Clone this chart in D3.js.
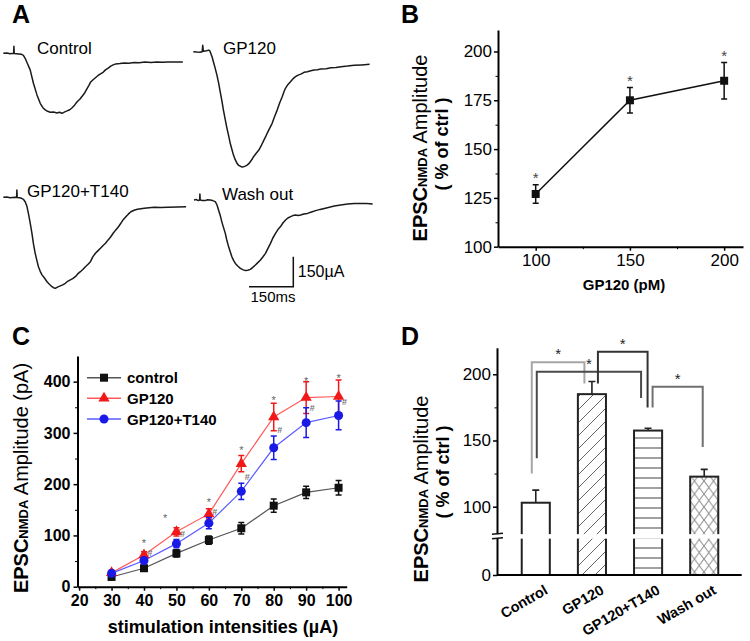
<!DOCTYPE html>
<html><head><meta charset="utf-8">
<script src="https://cdn.jsdelivr.net/npm/d3@7"></script>
<style>body{margin:0;background:#fff}svg{display:block}</style>
</head><body><svg id="c" width="750" height="641"></svg>
<script>
// ================= DATA =================
// Panel A: representative traces, [time (ms), current (µA)]
const traceControl = [[0,0],[12,1],[23,-2],[34,0],[35,-1],[36,35],[37,-1],[52,-3],[62,-5],[68,-10],[74,-25],[82,-52],[91,-83],[102,-150],[114,-208],[125,-250],[134,-272],[142,-283],[150,-290],[159,-295],[170,-294],[182,-298],[190,-295],[199,-300],[208,-293],[216,-288],[225,-282],[233,-272],[242,-258],[250,-242],[259,-230],[267,-215],[276,-197],[284,-175],[290,-160],[295,-145],[304,-132],[312,-122],[320,-112],[329,-103],[338,-95],[346,-83],[355,-74],[364,-64],[372,-58],[381,-53],[395,-51],[409,-48],[425,-50],[443,-46],[460,-47],[480,-44],[500,-46],[520,-44],[540,-45],[557,-43],[580,-44],[608,-43]];
const traceGP120 = [[0,0],[12,-2],[23,-3],[30,0],[32,32],[34,2],[45,5],[52,8],[56,4],[59,-8],[64,-28],[68,-50],[74,-82],[80,-117],[86,-158],[91,-200],[97,-247],[102,-292],[108,-338],[114,-383],[120,-422],[125,-458],[131,-490],[136,-517],[142,-540],[148,-558],[153,-568],[159,-572],[165,-577],[170,-575],[176,-572],[182,-567],[188,-560],[193,-550],[199,-538],[204,-525],[213,-508],[222,-492],[230,-470],[239,-442],[245,-425],[250,-408],[258,-385],[267,-358],[275,-325],[284,-292],[292,-258],[301,-225],[307,-200],[312,-183],[320,-165],[329,-150],[337,-136],[346,-125],[355,-117],[364,-112],[375,-103],[386,-100],[398,-95],[409,-92],[420,-90],[432,-87],[450,-85],[466,-80],[483,-79],[500,-75],[522,-72],[545,-68],[570,-66],[597,-63]];
const traceGPT140 = [[0,0],[12,1],[23,-2],[40,0],[45,-1],[46,36],[47,-1],[55,-2],[62,-5],[68,-10],[74,-22],[80,-45],[85,-80],[91,-128],[97,-180],[102,-232],[108,-280],[114,-318],[119,-347],[125,-370],[131,-388],[140,-405],[148,-422],[156,-435],[165,-447],[170,-452],[176,-455],[185,-448],[193,-443],[201,-438],[210,-430],[218,-420],[227,-413],[235,-407],[244,-397],[252,-383],[261,-372],[270,-360],[278,-347],[287,-335],[295,-322],[303,-298],[312,-280],[320,-268],[329,-255],[337,-242],[346,-230],[355,-213],[364,-197],[372,-180],[381,-163],[390,-147],[398,-130],[406,-112],[415,-97],[424,-83],[432,-72],[443,-65],[454,-60],[466,-57],[477,-55],[494,-52],[511,-50],[534,-51],[557,-50],[590,-48],[619,-47]];
const traceWash = [[0,0],[8,2],[15,-3],[19,0],[20,30],[21,0],[28,-2],[37,-3],[46,1],[55,0],[63,-3],[72,-8],[78,-25],[83,-50],[89,-78],[94,-108],[100,-138],[106,-167],[111,-200],[117,-233],[123,-260],[128,-283],[134,-302],[140,-317],[148,-330],[157,-342],[165,-348],[174,-353],[182,-351],[191,-347],[199,-337],[208,-325],[216,-313],[225,-300],[233,-285],[242,-267],[250,-243],[259,-217],[267,-190],[276,-167],[284,-148],[293,-133],[301,-115],[310,-100],[318,-90],[327,-83],[335,-78],[344,-75],[352,-77],[361,-75],[372,-70],[384,-67],[398,-60],[412,-53],[427,-47],[441,-42],[458,-36],[475,-30],[497,-25],[520,-20],[543,-18],[566,-17],[585,-18],[605,-20]];
const traceNames = ["Control","GP120","GP120+T140","Wash out"];
const scaleBarCurrent = 150; // µA
const scaleBarTime = 150;    // ms

// Panel B
const bDose = [100,150,200];
const bMean = [127,175,185];
const bErr  = [4.7,6.5,9.3];
const bYTicks = [100,125,150,175,200];
const bYMinor = [112.5,137.5,162.5,187.5];
const bXTicks = [100,150,200];
const bXMinor = [125,175];

// Panel C
const cIntensity = [30,40,50,60,70,80,90,100];
const cControl    = [19,36,65,91,114,158,184,193];
const cControlErr = [5,5,7,8,11,13,12,14];
const cGP120      = [27,62,107,142,240,331,369,371];
const cGP120Err   = [5,6,8,10,16,27,31,32];
const cGPT140     = [26,51,84,124,186,271,320,334];
const cGPT140Err  = [4,6,8,11,16,23,29,28];
const cStarX = [null,40,46.5,60,70,80,90,100];
const cStarY = [null,89,138,169,270,369,406,411];
const cHashY = [null,66,103,146,214,307,349,361];
const cYTicks = [0,100,200,300,400];
const cYMinor = [50,150,250,350];
const cXTicks = [20,30,40,50,60,70,80,90,100];
const cXMinor = [25,35,45,55,65,75,85,95];
const cSeriesNames = ["control","GP120","GP120+T140"];

// Panel D
const dGroups = ["Control","GP120","GP120+T140","Wash out"];
const dMean = [103,185,157.5,122.7];
const dErr  = [9.5,9.5,1.8,5.5];
const dYTicks = [0,100,150,200];
const dYMinor = [125,175];
const dBreak = 77;
// significance brackets: group indices and leg/top values
const dBrackets = [
  {from:0,to:1,legFrom:125,legTo:193,top:209},
  {from:0,to:2,legFrom:136.6,legTo:182,top:202},
  {from:1,to:2,legFrom:193,legTo:175,top:217},
  {from:2,to:3,legFrom:175,legTo:145,top:190.6}
];

// ================= DRAWING =================
const F = "'Liberation Sans', Arial, Helvetica, sans-serif";
const svg = d3.select("#c").style("font-family", F);

function panelLabel(t,x,y){
  svg.append("text").attr("x",x).attr("y",y).attr("font-size",25).attr("font-weight","bold").text(t);
}
panelLabel("A",12,23); panelLabel("B",401,23); panelLabel("C",12,345); panelLabel("D",401,345);

// ---- Panel A
const xA = d3.scaleLinear().domain([0,150]).range([0,44.3]);
const yA = d3.scaleLinear().domain([0,-150]).range([0,30]);
const lineA = d3.line().x(d=>xA(d[0])).y(d=>yA(d[1]));
const traces = [traceControl,traceGP120,traceGPT140,traceWash];
const aOrig = [[3.3,53.3],[193.3,51.7],[3.3,197.3],[194,200]];
const aLab = [[37,54],[223,54],[27,197],[222,200]];
traces.forEach((tr,i)=>{
  svg.append("path").attr("transform",`translate(${aOrig[i][0]},${aOrig[i][1]})`)
    .attr("d",lineA(tr)).attr("fill","none").attr("stroke","#1a1a1a").attr("stroke-width",1.5)
    .attr("stroke-linejoin","round");
  svg.append("text").attr("x",aLab[i][0]).attr("y",aLab[i][1]).attr("font-size",17).text(traceNames[i]);
});
// scale bar
{
  const cx = 293.3, cy = 286.7;
  svg.append("path").attr("d",`M${cx},${cy - (yA(-scaleBarCurrent)-yA(0))}V${cy}H${cx - xA(scaleBarTime)}`)
    .attr("fill","none").attr("stroke","#111").attr("stroke-width",1.5);
  svg.append("text").attr("x",cx+4.5).attr("y",277).attr("font-size",16).text("150µA");
  svg.append("text").attr("x",cx - xA(scaleBarTime)+1.5).attr("y",301.5).attr("font-size",15).text("150ms");
}

// helpers
function styleAxis(g, fs, weight){
  g.select(".domain").attr("stroke","#000").attr("stroke-width",2);
  g.selectAll(".tick line").attr("stroke","#000").attr("stroke-width",1.5);
  g.selectAll(".tick text").attr("font-size",fs).attr("font-family",F).attr("font-weight",weight).attr("fill","#000");
}
function yLabel(x, yc, lines, bigFs, smallFs, ampWeight, secondFs){
  const t = svg.append("text").attr("transform",`translate(${x},${yc}) rotate(-90)`).attr("text-anchor","middle");
  t.append("tspan").attr("font-size",bigFs).attr("font-weight","bold").text("EPSC");
  t.append("tspan").attr("font-size",smallFs).attr("font-weight","bold").text("NMDA");
  t.append("tspan").attr("font-size",bigFs).attr("font-weight",ampWeight).text(lines[0]);
}

// ---- Panel B
const xB = d3.scaleLinear().domain([80,210]).range([498,743]);
const yB = d3.scaleLinear().domain([100,211]).range([246.7,30]);
{
  const gy = svg.append("g").attr("transform","translate(498,0)")
    .call(d3.axisLeft(yB).tickValues(bYTicks).tickSize(4).tickPadding(2).tickSizeOuter(0));
  styleAxis(gy,17,"normal");
  const gym = svg.append("g").attr("transform","translate(498,0)")
    .call(d3.axisLeft(yB).tickValues(bYMinor).tickSize(2.5).tickFormat("").tickSizeOuter(0));
  gym.select(".domain").remove(); gym.selectAll(".tick line").attr("stroke-width",1);
  const gx = svg.append("g").attr("transform","translate(0,246.7)")
    .call(d3.axisBottom(xB).tickValues(bXTicks).tickSize(4).tickPadding(3).tickSizeOuter(0));
  styleAxis(gx,17,"normal");
  const gxm = svg.append("g").attr("transform","translate(0,246.7)")
    .call(d3.axisBottom(xB).tickValues(bXMinor).tickSize(2.5).tickFormat("").tickSizeOuter(0));
  gxm.select(".domain").remove(); gxm.selectAll(".tick line").attr("stroke-width",1);

  svg.append("text").attr("x",624).attr("y",290).attr("text-anchor","middle")
    .attr("font-size",15).attr("font-weight","bold").text("GP120 (pM)");
  yLabel(427,148,[" Amplitude"],20,13,"normal");
  svg.append("text").attr("transform","translate(448,144) rotate(-90)").attr("text-anchor","middle")
    .attr("font-size",18).attr("font-weight","bold").text("( % of ctrl )");

  const line = d3.line().x((d,i)=>xB(bDose[i])).y(d=>yB(d));
  svg.append("path").attr("d",line(bMean)).attr("fill","none").attr("stroke","#111").attr("stroke-width",1.5);
  bDose.forEach((d,i)=>{
    const x=xB(d), y1=yB(bMean[i]+bErr[i]), y0=yB(bMean[i]-bErr[i]);
    svg.append("path").attr("d",`M${x},${y0}V${y1}M${x-3},${y0}H${x+3}M${x-3},${y1}H${x+3}`)
      .attr("stroke","#111").attr("stroke-width",1.5).attr("fill","none");
    svg.append("rect").attr("x",x-4).attr("y",yB(bMean[i])-4).attr("width",8).attr("height",8).attr("fill","#111");
    svg.append("text").attr("x",x).attr("y",y1-2).attr("text-anchor","middle").attr("font-size",15)
      .attr("fill","#444").text("*");
  });
}

// ---- Panel C
const xC = d3.scaleLinear().domain([19.5,102.5]).range([77.5,346.7]);
const yC = d3.scaleLinear().domain([0,450]).range([586.7,356]);
{
  const gy = svg.append("g").attr("transform","translate(77.5,0)")
    .call(d3.axisLeft(yC).tickValues(cYTicks).tickSize(4).tickPadding(3).tickSizeOuter(0));
  styleAxis(gy,16,"bold");
  const gym = svg.append("g").attr("transform","translate(77.5,0)")
    .call(d3.axisLeft(yC).tickValues(cYMinor).tickSize(2.5).tickFormat("").tickSizeOuter(0));
  gym.select(".domain").remove(); gym.selectAll(".tick line").attr("stroke-width",1);
  const gx = svg.append("g").attr("transform","translate(0,586.7)")
    .call(d3.axisBottom(xC).tickValues(cXTicks).tickSize(4).tickPadding(4).tickSizeOuter(0));
  styleAxis(gx,16,"bold");
  const gxm = svg.append("g").attr("transform","translate(0,586.7)")
    .call(d3.axisBottom(xC).tickValues(cXMinor).tickSize(2.5).tickFormat("").tickSizeOuter(0));
  gxm.select(".domain").remove(); gxm.selectAll(".tick line").attr("stroke-width",1);

  svg.append("text").attr("x",223).attr("y",633).attr("text-anchor","middle")
    .attr("font-size",18).attr("font-weight","bold").text("stimulation intensities (µA)");
  yLabel(28,478,[" Amplitude (pA)"],20,13,"normal");

  const series = [
    {v:cControl,e:cControlErr,line:"#555",c:"#111",shape:"square"},
    {v:cGP120,e:cGP120Err,line:"#ff5a5a",c:"#f01818",shape:"tri"},
    {v:cGPT140,e:cGPT140Err,line:"#5a5aff",c:"#1a1ae6",shape:"circle"}
  ];
  function marker(g,shape,x,y,c){
    if(shape==="square") g.append("rect").attr("x",x-4).attr("y",y-4).attr("width",8).attr("height",8).attr("fill",c);
    else if(shape==="tri") g.append("path").attr("d",d3.symbol(d3.symbolTriangle,55)()).attr("transform",`translate(${x},${y})`).attr("fill",c);
    else g.append("circle").attr("cx",x).attr("cy",y).attr("r",4.5).attr("fill",c);
  }
  series.forEach(s=>{
    const line = d3.line().x((d,i)=>xC(cIntensity[i])).y(d=>yC(d));
    svg.append("path").attr("d",line(s.v)).attr("fill","none").attr("stroke",s.line).attr("stroke-width",1.2);
  });
  series.forEach(s=>{
    const g = svg.append("g");
    s.v.forEach((v,i)=>{
      const x=xC(cIntensity[i]), y1=yC(v+s.e[i]), y0=yC(v-s.e[i]);
      g.append("path").attr("d",`M${x},${y0}V${y1}M${x-3},${y0}H${x+3}M${x-3},${y1}H${x+3}`)
        .attr("stroke",s.c).attr("stroke-width",1.5).attr("fill","none");
      marker(g,s.shape,x,yC(v),s.c);
    });
  });
  cIntensity.forEach((d,i)=>{
    if(cStarY[i]!=null) svg.append("text").attr("x",xC(cStarX[i])).attr("y",yC(cStarY[i])+6)
      .attr("text-anchor","middle").attr("font-size",11).attr("fill","#666").text("*");
    if(cHashY[i]!=null) svg.append("text").attr("x",xC(d)+6).attr("y",yC(cHashY[i])+3.5)
      .attr("text-anchor","middle").attr("font-size",9).attr("font-weight","bold").attr("fill","#777").text("#");
  });
  // legend
  const ly = [377.7,398.3,419];
  series.forEach((s,i)=>{
    svg.append("line").attr("x1",87).attr("x2",121).attr("y1",ly[i]).attr("y2",ly[i]).attr("stroke",s.line).attr("stroke-width",1.5);
    const g = svg.append("g"); marker(g,s.shape,104,ly[i],s.c);
    svg.append("text").attr("x",127).attr("y",ly[i]+5.5).attr("font-size",15).attr("font-weight","bold").text(cSeriesNames[i]);
  });
}

// ---- Panel D
const xD = d3.scaleBand().domain(dGroups).range([507.7,732.3]).paddingInner(0.5).paddingOuter(0.25);
const yD = d3.scaleLinear().domain([0,75,220]).range([575,539.8,347.8]);
{
  const defs = svg.append("defs");
  const p1 = defs.append("pattern").attr("id","diag").attr("patternUnits","userSpaceOnUse").attr("width",13).attr("height",13);
  p1.append("path").attr("d","M-1,14L14,-1M-3,3L3,-3M10,16L16,10").attr("stroke","#666").attr("stroke-width",1);
  const p2 = defs.append("pattern").attr("id","horiz").attr("patternUnits","userSpaceOnUse").attr("width",10).attr("height",10).attr("y",3);
  p2.append("path").attr("d","M0,5H10").attr("stroke","#8a8a8a").attr("stroke-width",1.6);
  const p3 = defs.append("pattern").attr("id","cross").attr("patternUnits","userSpaceOnUse").attr("width",9.5).attr("height",13).attr("x",1);
  p3.append("path").attr("d","M0,0L9.5,13M9.5,0L0,13").attr("stroke","#888").attr("stroke-width",1);
  const fills = ["#fff","url(#diag)","url(#horiz)","url(#cross)"];

  dGroups.forEach((g,i)=>{
    const x = xD(g), w = xD.bandwidth(), cx = x + w/2;
    const y1 = yD(dMean[i]+dErr[i]);
    svg.append("path").attr("d",`M${cx},${yD(dMean[i])}V${y1}M${cx-3.5},${y1}H${cx+3.5}`)
      .attr("stroke","#222").attr("stroke-width",1.6).attr("fill","none");
    svg.append("rect").attr("x",x).attr("y",yD(dMean[i])).attr("width",w).attr("height",yD(0)-yD(dMean[i]))
      .attr("fill","#fff");
    svg.append("rect").attr("x",x).attr("y",yD(dMean[i])).attr("width",w).attr("height",yD(0)-yD(dMean[i]))
      .attr("fill",fills[i]).attr("stroke","#222").attr("stroke-width",2);
  });

  // axes
  const gy = svg.append("g").attr("transform","translate(497,0)")
    .call(d3.axisLeft(yD).tickValues(dYTicks).tickSize(4).tickPadding(2).tickSizeOuter(0));
  styleAxis(gy,17,"normal");
  const gym = svg.append("g").attr("transform","translate(497,0)")
    .call(d3.axisLeft(yD).tickValues(dYMinor).tickSize(2.5).tickFormat("").tickSizeOuter(0));
  gym.select(".domain").remove(); gym.selectAll(".tick line").attr("stroke-width",1);
  // axis break gap
  const yb = yD(dBreak);
  svg.append("rect").attr("x",490).attr("y",yb-3).attr("width",240).attr("height",4.5).attr("fill","#fff");
  svg.append("path").attr("d",`M492,${yb-3}L503,${yb-3.8}M492,${yb+1.5}L503,${yb+0.7}`)
    .attr("stroke","#111").attr("stroke-width",1.5);
  svg.append("line").attr("x1",497).attr("x2",741.7).attr("y1",yD(0)).attr("y2",yD(0)).attr("stroke","#000").attr("stroke-width",2);

  dGroups.forEach((g,i)=>{
    const cx = xD(g)+xD.bandwidth()/2;
    svg.append("text").attr("transform",`translate(${cx+13},${593}) rotate(-30)`).attr("text-anchor","end")
      .attr("font-size",14.5).attr("font-weight","bold").text(g);
  });

  yLabel(428,489,[" Amplitude"],20,13,"normal");
  svg.append("text").attr("transform","translate(449,472) rotate(-90)").attr("text-anchor","middle")
    .attr("font-size",18).attr("font-weight","bold").text("( % of ctrl )");

  // brackets
  const bStyle = [{ao:-4,bo:-7.5,c:"#a5a5a5"},{ao:1,bo:-7,c:"#4a4a4a"},{ao:6,bo:-0.5,c:"#333"},{ao:4.5,bo:-1.5,c:"#707070"}];
  dBrackets.forEach((b,i)=>{
    const s = bStyle[i];
    const xa = xD(dGroups[b.from])+xD.bandwidth()/2+s.ao;
    const xb = xD(dGroups[b.to])+xD.bandwidth()/2+s.bo;
    svg.append("path").attr("d",`M${xa},${yD(b.legFrom)}V${yD(b.top)}H${xb}V${yD(b.legTo)}`)
      .attr("fill","none").attr("stroke",s.c).attr("stroke-width",2);
    svg.append("text").attr("x",(xa+xb)/2).attr("y",yD(b.top)-3).attr("text-anchor","middle")
      .attr("font-size",15).attr("fill","#222").text("*");
  });
}
</script></body></html>
